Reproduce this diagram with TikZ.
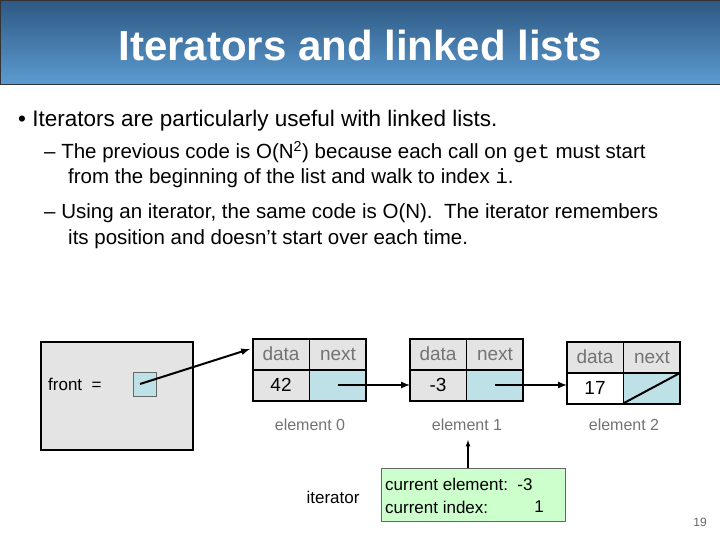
\documentclass[tikz,border=0pt]{standalone}
\usepackage{fontspec}
\setmainfont{Liberation Sans}
\setmonofont{Liberation Mono}
\usetikzlibrary{calc}
\definecolor{cellblue}{RGB}{190,225,232}
\definecolor{boxgray}{RGB}{228,228,228}
\definecolor{itgreen}{RGB}{204,255,204}
\begin{document}
\begin{tikzpicture}[x=1pt,y=-1pt,
  txt/.style={anchor=west,inner sep=0pt,font=\fontsize{20.5}{24}\selectfont},
  graybox/.style={fill=boxgray,draw=black,line width=2.2pt},
  lbl/.style={inner sep=0pt,text=black!55,font=\fontsize{16}{18}\selectfont},
  hdr/.style={inner sep=0pt,text=black!55,font=\fontsize{19}{20}\selectfont},
  val/.style={inner sep=0pt,font=\fontsize{19}{20}\selectfont},
  itx/.style={inner sep=0pt,font=\fontsize{17}{19}\selectfont},
  arr/.style={-latex,line width=2pt}]
\useasboundingbox (0,0) rectangle (720,540);
\fill[white] (0,0) rectangle (720,540);
\shade[top color={rgb,255:red,45;green,88;blue,130},bottom color={rgb,255:red,92;green,155;blue,208}] (0,0) rectangle (720,84);
\draw[black!80,line width=0.8pt] (0,0) rectangle (720,84);
\node[inner sep=0pt,text=white,font=\fontsize{42}{46}\selectfont\bfseries] (title) at (360,45) {Iterators and linked lists};
\node[txt,font=\fontsize{22.5}{26}\selectfont] (b1) at (18,121) {\textbullet\ Iterators are particularly useful with linked lists.};
\node[txt] (s1) at (44,152) {-- The previous code is O(N\textsuperscript{2}) because each call on \texttt{get} must start};
\node[txt] (s1b) at (68,178) {from the beginning of the list and walk to index \texttt{i}.};
\node[txt] (s2) at (44,213) {-- Using an iterator, the same code is O(N).\ \ The iterator remembers};
\node[txt] (s2b) at (68,239) {its position and doesn\symbol{39}t start over each time.};
% front box
\draw[graybox] (41,342) rectangle (193,450);
\node[inner sep=0pt,anchor=west,font=\fontsize{17}{18}\selectfont] (front) at (48,384) {front\ \ =};
\draw[fill=cellblue,draw=black!60,line width=0.6pt] (133,372) rectangle (156,396);
\coordinate (fs) at (140,384);
% elements
\foreach \n/\x/\y/\v/\vc in {0/253/339/42/boxgray,1/410/339/-3/boxgray,2/567/342/17/white}{
  \fill[boxgray] (\x,\y) rectangle ++(113,62);
  \fill[\vc] ($(\x,\y)+(0,31)$) rectangle ++(56,31);
  \fill[cellblue] ($(\x,\y)+(56,31)$) rectangle ++(57,31);
  \draw[line width=2pt] ($(\x,\y)+(0,31)$) -- ++(113,0);
  \draw[line width=1pt] ($(\x,\y)+(56,0)$) -- ++(0,62);
  \draw[line width=2.2pt] (\x,\y) rectangle ++(113,62);
  \node[hdr] (h\n a) at ($(\x,\y)+(28,15)$) {data};
  \node[hdr] (h\n b) at ($(\x,\y)+(85,15)$) {next};
  \node[val] (v\n) at ($(\x,\y)+(28,46)$) {\v};
  \coordinate (e\n l) at ($(\x,\y)+(0,46)$);
  \coordinate (e\n n) at ($(\x,\y)+(85,46)$);
  \node[lbl] (el\n) at ($(\x,\y)+(57,86-\y+339)$) {element \n};
}
\draw[line width=2pt] ($(e2n)+(-28,15)$) -- ($(e2n)+(28,-15)$);
\coordinate (e0t) at (250,349);
\draw[arr] (fs) -- (e0t);
\draw[arr] (e0n) -- (e1l);
\draw[arr] (e1n) -- (e1n -| e2l);
% iterator
\node[draw=black!60,fill=itgreen,line width=0.8pt,minimum width=184pt,minimum height=53pt,inner sep=0pt] (it) at (473,494.5) {};
\node[itx,anchor=west] (itt1) at (385,484) {current element:\ \ -3};
\node[itx,anchor=west] (itt2) at (385,507) {current index:};
\node[itx] (itt3) at (539,507) {1};
\node[itx] (itl) at (333,497) {iterator};
\draw[-latex,line width=1.2pt] (it.north -| 468,0) -- (468,440);
\node[inner sep=0pt,text=black!60,font=\fontsize{12}{14}\selectfont] (pg) at (700,522) {19};
\end{tikzpicture}
\end{document}
